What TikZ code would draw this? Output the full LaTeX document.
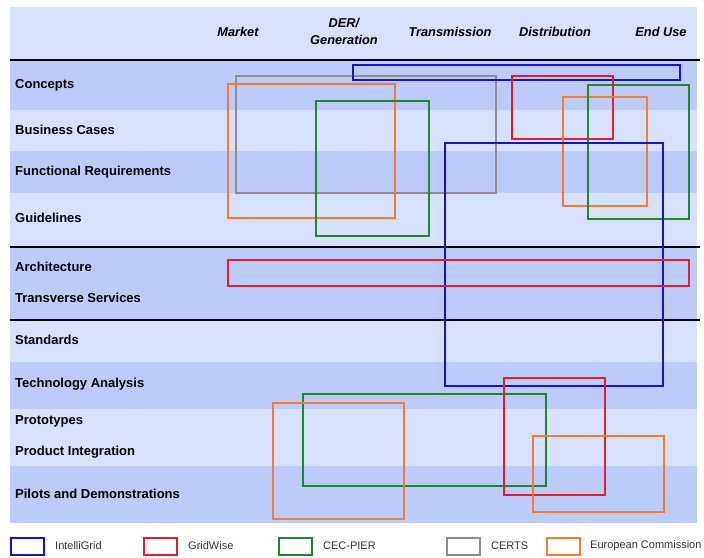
\documentclass[tikz,border=0pt]{standalone}
\usepackage{fontspec}
\setmainfont{Liberation Sans}
\usetikzlibrary{positioning}

\definecolor{bandlight}{RGB}{216,225,251}
\definecolor{banddark}{RGB}{188,203,249}
\definecolor{igblue}{RGB}{20,20,205}
\definecolor{gwred}{RGB}{225,30,45}
\definecolor{cecgreen}{RGB}{30,135,45}
\definecolor{certsgray}{RGB}{140,140,140}
\definecolor{ecorange}{RGB}{240,125,50}

\tikzset{
  rowlabel/.style={anchor=west, inner sep=0pt, font=\fontsize{13}{15}\selectfont\bfseries},
  collabel/.style={align=center, inner sep=0pt, font=\fontsize{12.8}{17}\selectfont\bfseries\itshape},
  areabox/.style={line width=2pt},
  divider/.style={line width=1.6pt, black},
  legendbox/.style={draw, line width=2pt, minimum width=33pt, minimum height=17pt, inner sep=0pt},
  legendtext/.style={anchor=west, inner sep=0pt, text=black!80, font=\fontsize{11}{13}\selectfont}
}

\begin{document}
\begin{tikzpicture}[x=1pt, y=-1pt]
  \useasboundingbox (0,0) rectangle (704,557);
  \foreach \ytop/\ybot/\col in {7/61/bandlight, 61/110/banddark, 110/151/bandlight,
      151/193/banddark, 193/248/bandlight, 248/321/banddark, 321/362/bandlight,
      362/409/banddark, 409/466/bandlight, 466/523/banddark}
    \fill[\col] (10,\ytop) rectangle (697,\ybot);
  \draw[divider] (10,60) -- (700,60);
  \draw[divider] (10,247) -- (700,247);
  \draw[divider] (10,320) -- (700,320);

  \node[collabel] (market) at (238,32) {Market};
  \node[collabel] (der) at (344,31) {DER/\\Generation};
  \node[collabel] (transmission) at (450,32) {Transmission};
  \node[collabel] (distribution) at (555,32) {Distribution};
  \node[collabel] (enduse) at (661,32) {End Use};

  \node[rowlabel] (concepts) at (15,85) {Concepts};
  \node[rowlabel] (business) at (15,130) {Business Cases};
  \node[rowlabel] (functional) at (15,172) {Functional Requirements};
  \node[rowlabel] (guidelines) at (15,218) {Guidelines};
  \node[rowlabel] (architecture) at (15,267) {Architecture};
  \node[rowlabel] (transverse) at (15,298) {Transverse Services};
  \node[rowlabel] (standards) at (15,340) {Standards};
  \node[rowlabel] (technology) at (15,384) {Technology Analysis};
  \node[rowlabel] (prototypes) at (15,421) {Prototypes};
  \node[rowlabel] (integration) at (15,452) {Product Integration};
  \node[rowlabel] (pilots) at (15,494) {Pilots and Demonstrations};

  \draw[areabox, certsgray] (236,76) rectangle (496,193);
  \draw[areabox, ecorange] (228,84) rectangle (395,218);
  \draw[areabox, cecgreen] (316,101) rectangle (429,236);
  \draw[areabox, igblue] (353,65) rectangle (680,80);
  \draw[areabox, gwred] (512,76) rectangle (613,139);
  \draw[areabox, ecorange] (563,97) rectangle (647,206);
  \draw[areabox, cecgreen] (588,85) rectangle (689,219);
  \draw[areabox, igblue] (445,143) rectangle (663,386);
  \draw[areabox, gwred] (228,260) rectangle (689,286);
  \draw[areabox, cecgreen] (303,394) rectangle (546,486);
  \draw[areabox, ecorange] (273,403) rectangle (404,519);
  \draw[areabox, gwred] (504,378) rectangle (605,495);
  \draw[areabox, ecorange] (533,436) rectangle (664,512);

  \node[legendbox, draw=igblue, anchor=west] (igkey) at (10,546) {};
  \node[legendtext, right=10pt of igkey] (igtext) {IntelliGrid};
  \node[legendbox, draw=gwred, anchor=west] (gwkey) at (143,546) {};
  \node[legendtext, right=10pt of gwkey] (gwtext) {GridWise};
  \node[legendbox, draw=cecgreen, anchor=west] (ceckey) at (278,546) {};
  \node[legendtext, right=10pt of ceckey] (cectext) {CEC-PIER};
  \node[legendbox, draw=certsgray, anchor=west] (certskey) at (446,546) {};
  \node[legendtext, right=10pt of certskey] (certstext) {CERTS};
  \node[legendbox, draw=ecorange, anchor=west] (eckey) at (546,546) {};
  \node[legendtext, right=9pt of eckey] (ectext) {European Commission};
\end{tikzpicture}
\end{document}
